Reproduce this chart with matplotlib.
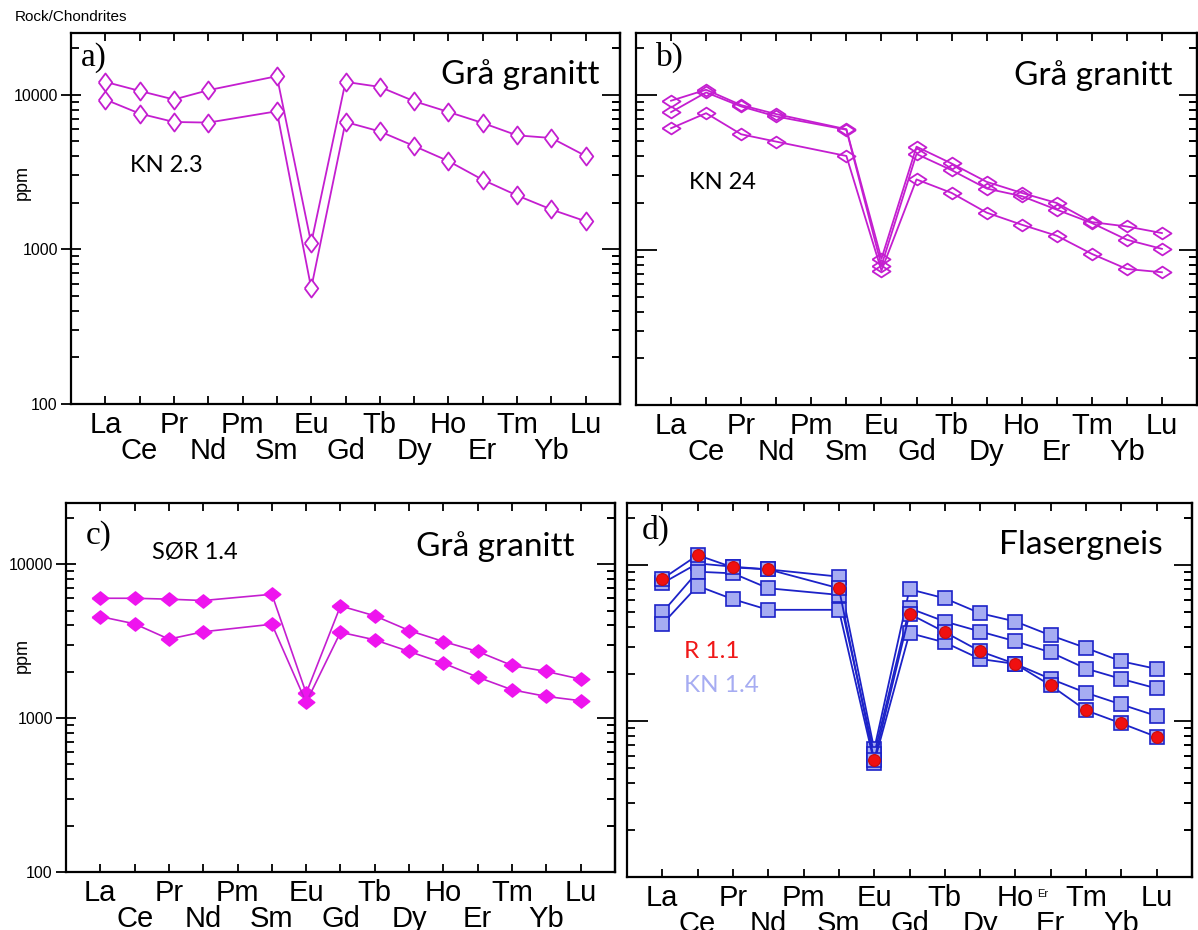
import matplotlib
matplotlib.use("Agg")
import matplotlib.pyplot as plt
from matplotlib.ticker import LogLocator, NullFormatter, FixedLocator, FixedFormatter

# REE-elementer (Pm mangler i dataene)
elements = ["La", "Ce", "Pr", "Nd", "Pm", "Sm", "Eu", "Gd", "Tb", "Dy", "Ho", "Er", "Tm", "Yb", "Lu"]
measured = ["La", "Ce", "Pr", "Nd", "Sm", "Eu", "Gd", "Tb", "Dy", "Ho", "Er", "Tm", "Yb", "Lu"]

# a) KN 2.3
kn23_1 = [12080, 10560, 9290, 10670, 13150, 1094, 12080, 11210, 9060, 7720, 6550, 5450, 5240, 4010]
kn23_2 = [9290, 7535, 6650, 6590, 7800, 561, 6650, 5780, 4650, 3715, 2812, 2228, 1808, 1517]

# b) KN 24
kn24_1 = [9150, 10770, 8570, 7500, 5995, 875, 4625, 3605, 2745, 2330, 2005, 1510, 1415, 1283]
kn24_2 = [7720, 10350, 8400, 7240, 5950, 791, 4150, 3265, 2485, 2220, 1816, 1490, 1162, 1015]
kn24_3 = [6080, 7605, 5560, 4985, 4030, 735, 2845, 2330, 1738, 1453, 1233, 942, 753, 717]

# c) SØR 1.4
sor14_1 = [6010, 6010, 5930, 5810, 6380, 1452, 5360, 4620, 3710, 3145, 2710, 2198, 2010, 1792]
sor14_2 = [4570, 4100, 3260, 3640, 4075, 1265, 3615, 3225, 2710, 2275, 1845, 1528, 1383, 1297]

# d) KN 1.4 og R 1.1
kn14_1 = [7640, 10250, 9760, 9380, 8430, 659, 7000, 6120, 4910, 4345, 3540, 2940, 2415, 2158]
kn14_2 = [4965, 9065, 8850, 7100, 6440, 612, 5285, 4345, 3750, 3245, 2755, 2168, 1862, 1618]
kn14_3 = [4180, 7350, 6040, 5165, 5165, 542, 3665, 3190, 2500, 2323, 1862, 1517, 1277, 1077]
r11 = [8150, 11580, 9660, 9380, 7100, 561, 4865, 3715, 2800, 2323, 1690, 1170, 966, 791]

xpos = [elements.index(e) for e in measured]
row1 = list(range(0, len(elements), 2))   # La, Pr, Pm, ...
row2 = list(range(1, len(elements), 2))   # Ce, Nd, Sm, ...

MAG = "#c41ed0"
MAG2 = "#ee14ee"
BLUE = "#1c22c8"
LBLUE = "#a6acf2"

tall_diamond = [(-0.75, 0), (0, 1), (0.75, 0), (0, -1), (-0.75, 0)]
flat_diamond = [(-1, 0), (0, 0.65), (1, 0), (0, -0.65), (-1, 0)]
flat_diamond2 = [(-1, 0), (0, 0.8), (1, 0), (0, -0.8), (-1, 0)]

W, H = 1198, 930
fig = plt.figure(figsize=(W / 100, H / 100), dpi=100)


def make_ax(l, r, t, b, left_labels):
    ax = fig.add_axes([l / W, 1 - b / H, (r - l) / W, (b - t) / H])
    ax.set_yscale("log")
    ax.set_ylim(100, 25000)
    ax.set_xlim(-1, 15)
    # to rader med grunnstoffnavn: hovedticks og "minor" ticks
    ax.xaxis.set_major_locator(FixedLocator(row1))
    ax.xaxis.set_major_formatter(FixedFormatter([elements[i] for i in row1]))
    ax.xaxis.set_minor_locator(FixedLocator(row2))
    ax.xaxis.set_minor_formatter(FixedFormatter([elements[i] for i in row2]))
    ax.tick_params(axis="x", which="major", direction="in", top=True, bottom=True,
                   length=6, width=1.3, pad=5, labelsize=21)
    ax.tick_params(axis="x", which="minor", direction="in", top=True, bottom=True,
                   length=6, width=1.3, pad=23.5, labelsize=21)
    for lab in ax.get_xticklabels(which="both"):
        lab.set_family("Liberation Sans")

    ax.yaxis.set_major_locator(LogLocator(base=10, numticks=10))
    ax.yaxis.set_minor_locator(LogLocator(base=10, subs=range(2, 10), numticks=10))
    ax.yaxis.set_minor_formatter(NullFormatter())
    ax.tick_params(axis="y", which="minor", direction="in", left=True, right=True,
                   length=6, width=1.3)
    if left_labels:
        ax.tick_params(axis="y", which="major", direction="inout", left=True,
                       right=False, length=15, width=1.3, pad=2, labelsize=11.5)
        ax.yaxis.set_major_formatter(plt.FuncFormatter(lambda v, p: f"{v:.0f}"))
        for lab in ax.get_yticklabels():
            lab.set_family("Liberation Sans")
    else:
        ax.tick_params(axis="y", which="major", direction="in", left=True,
                       right=False, length=15, width=1.3, labelleft=False)
    # store ticks på høyre side, bare innover
    ax2 = ax.secondary_yaxis("right")
    ax2.tick_params(axis="y", which="major", direction="in", length=13, width=1.3,
                    labelright=False)
    ax2.tick_params(axis="y", which="minor", direction="in", length=6, width=1.3)
    ax2.yaxis.set_minor_formatter(NullFormatter())
    for s in ax.spines.values():
        s.set_linewidth(1.6)
    ax2.spines["right"].set_linewidth(1.6)
    return ax


ax_a = make_ax(71, 620, 33, 404, True)
ax_b = make_ax(636, 1197, 33, 405, False)
ax_c = make_ax(66, 615, 503, 872, True)
ax_d = make_ax(627, 1192, 503, 877, False)

# a)
for s in [kn23_1, kn23_2]:
    ax_a.plot(xpos, s, color=MAG, lw=1.3, marker=tall_diamond, ms=13,
              mfc="white", mec=MAG, mew=1.3)
# b)
for s in [kn24_1, kn24_2, kn24_3]:
    ax_b.plot(xpos, s, color=MAG, lw=1.3, marker=flat_diamond, ms=13,
              mfc="none", mec=MAG, mew=1.3)
# c)
for s in [sor14_1, sor14_2]:
    ax_c.plot(xpos, s, color=MAG, lw=1.2, marker=flat_diamond2, ms=12,
              mfc=MAG2, mec=MAG2, mew=1)
# d)
for s in [kn14_1, kn14_2, kn14_3]:
    ax_d.plot(xpos, s, color=BLUE, lw=1.3, marker="s", ms=10,
              mfc=LBLUE, mec=BLUE, mew=1.2)
ax_d.plot(xpos, r11, color=BLUE, lw=1.3, marker="s", ms=10,
          mfc=LBLUE, mec=BLUE, mew=1.2)
ax_d.plot(xpos, r11, color="none", lw=0, marker="o", ms=8.5,
          mfc="#f01010", mec="#c80a0a", mew=0.8)

# panel-tekster
serif = "Liberation Serif"
calib = "Lato"
ax_a.text(0.018, 0.935, "a)", transform=ax_a.transAxes, fontsize=24, family=serif,
          va="center", ha="left")
ax_a.text(0.962, 0.887, "Grå granitt", transform=ax_a.transAxes, fontsize=24,
          family=calib, va="center", ha="right")
ax_a.text(0.107, 0.644, "KN 2.3", transform=ax_a.transAxes, fontsize=17,
          family=calib, va="center", ha="left")

ax_b.text(0.035, 0.935, "b)", transform=ax_b.transAxes, fontsize=24, family=serif,
          va="center", ha="left")
ax_b.text(0.957, 0.887, "Grå granitt", transform=ax_b.transAxes, fontsize=24,
          family=calib, va="center", ha="right")
ax_b.text(0.094, 0.599, "KN 24", transform=ax_b.transAxes, fontsize=17,
          family=calib, va="center", ha="left")

ax_c.text(0.036, 0.911, "c)", transform=ax_c.transAxes, fontsize=24, family=serif,
          va="center", ha="left")
ax_c.text(0.927, 0.881, "Grå granitt", transform=ax_c.transAxes, fontsize=24,
          family=calib, va="center", ha="right")
ax_c.text(0.157, 0.865, "SØR 1.4", transform=ax_c.transAxes, fontsize=17,
          family=calib, va="center", ha="left")

ax_d.text(0.026, 0.928, "d)", transform=ax_d.transAxes, fontsize=24, family=serif,
          va="center", ha="left")
ax_d.text(0.948, 0.888, "Flasergneis", transform=ax_d.transAxes, fontsize=24,
          family=calib, va="center", ha="right")
ax_d.text(0.10, 0.603, "R 1.1", transform=ax_d.transAxes, fontsize=17.5,
          family=calib, va="center", ha="left", color="#f01818")
ax_d.text(0.10, 0.513, "KN 1.4", transform=ax_d.transAxes, fontsize=17.5,
          family=calib, va="center", ha="left", color=LBLUE)
ax_d.text(10.6, -0.045, "Er", transform=ax_d.get_xaxis_transform(), fontsize=8,
          family="Liberation Sans", va="center", ha="left")

# aksetekster
fig.text(22 / W, 1 - 183 / H, "ppm", fontsize=13, rotation=90,
         family="Liberation Sans", va="center", ha="center")
fig.text(22 / W, 1 - 655 / H, "ppm", fontsize=13, rotation=90,
         family="Liberation Sans", va="center", ha="center")
fig.text(15 / W, 1 - 17 / H, "Rock/Chondrites", fontsize=11,
         family="Liberation Sans", va="center", ha="left")

fig.savefig("out.png", dpi=100)
